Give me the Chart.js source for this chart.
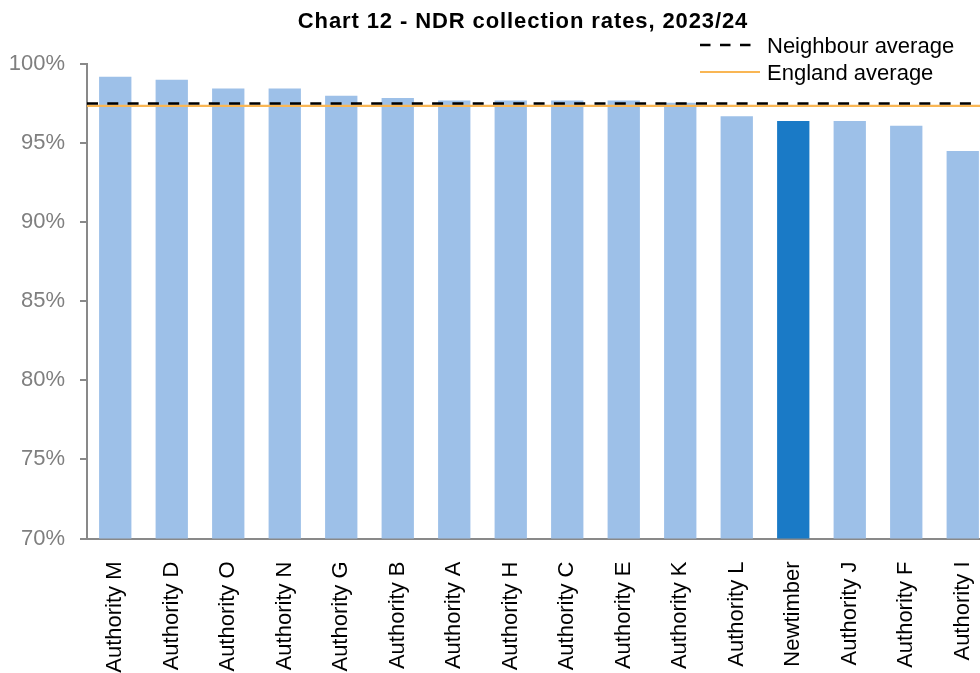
<!DOCTYPE html>
<html>
<head>
<meta charset="utf-8">
<script src="https://cdn.jsdelivr.net/npm/chart.js@4"></script>
<style>
  html, body { margin: 0; padding: 0; background: #fff; overflow: hidden; width: 980px; height: 673px; }
  #wrap { position: absolute; left: 0; top: 0; width: 1046px; height: 673px; }
</style>
</head>
<body>
<div id="wrap"><canvas id="c" width="1046" height="673"></canvas></div>
<script>
const titleText = 'Chart 12 - NDR collection rates, 2023/24';
const categories = ['Authority M','Authority D','Authority O','Authority N','Authority G','Authority B','Authority A','Authority H','Authority C','Authority E','Authority K','Authority L','Newtimber','Authority J','Authority F','Authority I'];
const collectionRates = [99.2, 99.0, 98.45, 98.45, 98.0, 97.85, 97.7, 97.7, 97.7, 97.7, 97.55, 96.7, 96.4, 96.4, 96.1, 94.5];
const highlightCategory = 'Newtimber';
const neighbourAverage = 97.5;
const englandAverage = 97.35;
const legendLabels = ['Neighbour average', 'England average'];
const yMin = 70, yMax = 100, yStep = 5;

const FONT = '"Liberation Sans", Arial, sans-serif';
const LIGHT = '#9DC0E8';
const DARK = '#1A7AC6';
const ORANGE = '#F9B654';
const AXIS = '#898989';

const extras = {
  id: 'extras',
  afterDatasetsDraw(chart) {
    const ctx = chart.ctx;
    const y = chart.scales.y;
    const a = chart.chartArea;
    ctx.save();
    // England average (solid orange)
    let py = y.getPixelForValue(englandAverage);
    ctx.strokeStyle = ORANGE;
    ctx.lineWidth = 2.2;
    ctx.setLineDash([]);
    ctx.beginPath(); ctx.moveTo(a.left, py); ctx.lineTo(a.right, py); ctx.stroke();
    // Neighbour average (black dashed)
    py = y.getPixelForValue(neighbourAverage);
    ctx.strokeStyle = '#000';
    ctx.lineWidth = 2.6;
    ctx.setLineDash([11, 9.3]);
    ctx.beginPath(); ctx.moveTo(a.left, py); ctx.lineTo(a.right, py); ctx.stroke();
    ctx.restore();
  },
  afterDraw(chart) {
    const ctx = chart.ctx;
    ctx.save();
    // Title
    ctx.fillStyle = '#000';
    ctx.font = 'bold 22px ' + FONT;
    ctx.textAlign = 'center';
    ctx.textBaseline = 'alphabetic';
    try { ctx.letterSpacing = '0.9px'; } catch (e) {}
    ctx.fillText(titleText, 523, 27.5);
    try { ctx.letterSpacing = '0px'; } catch (e) {}
    // Legend
    ctx.font = '22px ' + FONT;
    ctx.textAlign = 'left';
    ctx.lineWidth = 2.4;
    ctx.strokeStyle = '#000';
    ctx.setLineDash([10.5, 9.5]);
    ctx.beginPath(); ctx.moveTo(700, 45); ctx.lineTo(752, 45); ctx.stroke();
    ctx.fillText(legendLabels[0], 767, 52.5);
    ctx.setLineDash([]);
    ctx.strokeStyle = ORANGE;
    ctx.lineWidth = 2;
    ctx.beginPath(); ctx.moveTo(700, 72); ctx.lineTo(760, 72); ctx.stroke();
    ctx.fillText(legendLabels[1], 767, 79.5);
    ctx.restore();
  }
};

new Chart(document.getElementById('c'), {
  type: 'bar',
  data: {
    labels: categories,
    datasets: [{
      data: collectionRates,
      backgroundColor: categories.map(c => c === highlightCategory ? DARK : LIGHT),
      borderWidth: 0,
      barPercentage: 0.572,
      categoryPercentage: 1.0
    }]
  },
  options: {
    responsive: false,
    animation: false,
    devicePixelRatio: 1,
    layout: { padding: { top: 64, right: 55, bottom: 0, left: 0 } },
    plugins: { legend: { display: false }, title: { display: false }, tooltip: { enabled: false } },
    scales: {
      x: {
        grid: { display: false },
        border: { display: true, color: AXIS, width: 2 },
        ticks: {
          color: '#000',
          font: { family: FONT, size: 22 },
          minRotation: 90, maxRotation: 90,
          padding: 15,
          autoSkip: false
        },
        afterFit(scale) { scale.height = 134.5; }
      },
      y: {
        min: yMin, max: yMax,
        grid: { display: true, drawOnChartArea: false, drawTicks: true, tickLength: 7, color: AXIS, lineWidth: 2 },
        border: { display: true, color: AXIS, width: 2 },
        ticks: {
          stepSize: yStep,
          color: '#7F7F7F',
          font: { family: FONT, size: 22 },
          padding: 15,
          callback: v => v + '%'
        },
        afterFit(scale) { scale.width = 87; }
      }
    }
  },
  plugins: [extras]
});
</script>
</body>
</html>
